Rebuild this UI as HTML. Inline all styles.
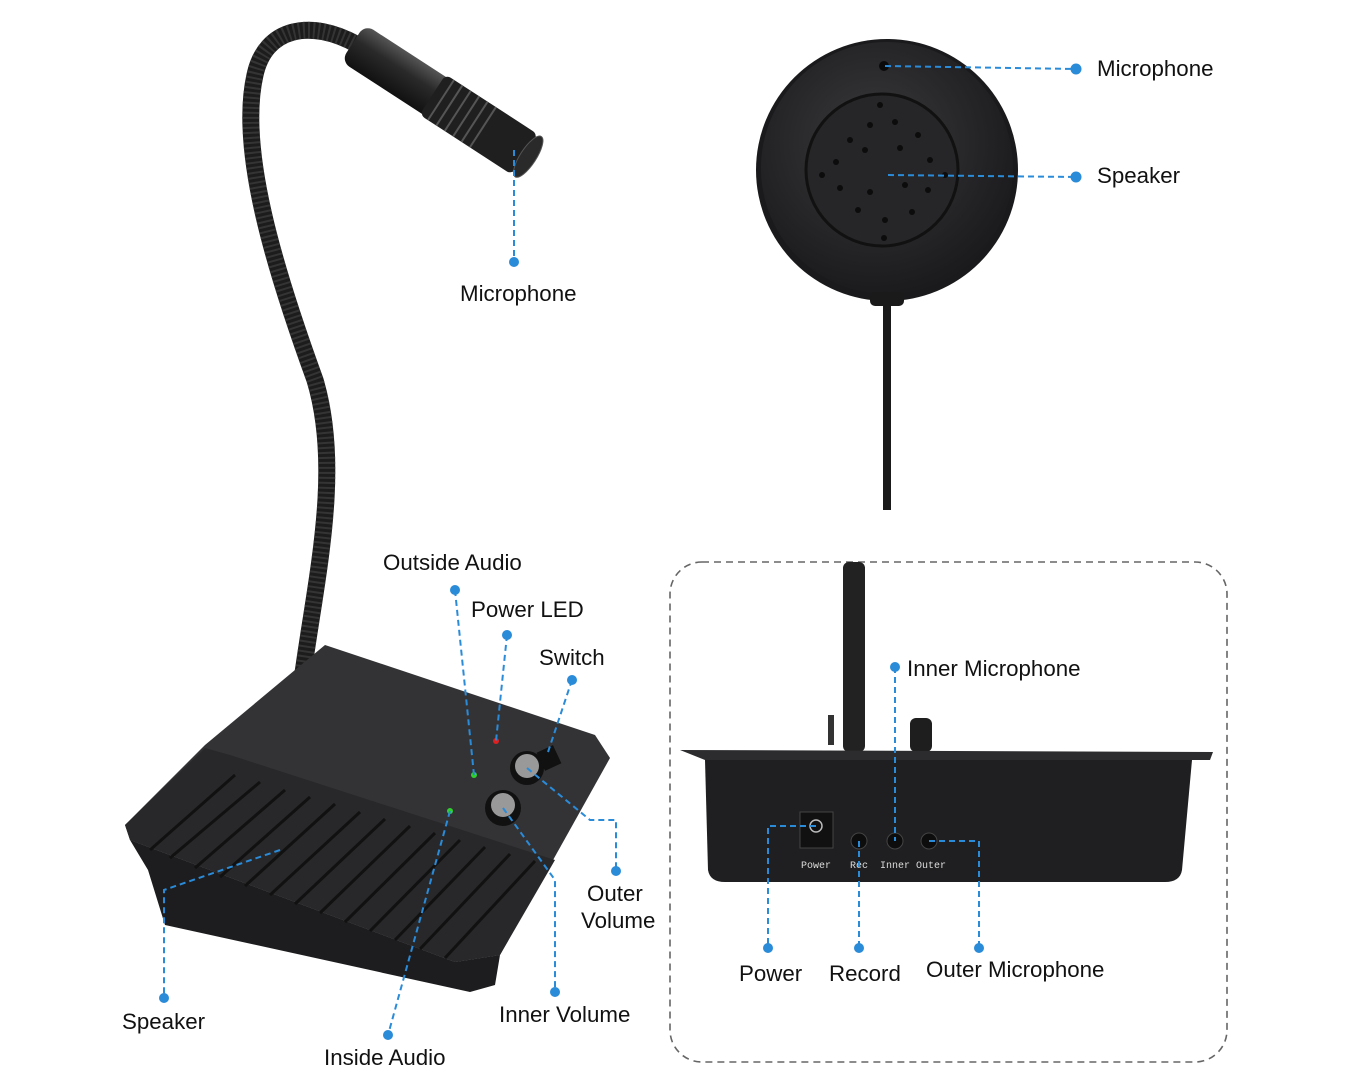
<!DOCTYPE html>
<html><head><meta charset="utf-8"><style>
html,body{margin:0;padding:0;background:#fff;}
svg{display:block;}
text{font-family:"Liberation Sans",sans-serif;font-size:22.3px;fill:#111;}
</style></head><body>
<svg width="1350" height="1080" viewBox="0 0 1350 1080" xmlns="http://www.w3.org/2000/svg">
<defs>
<linearGradient id="mic" x1="0" y1="0" x2="0" y2="1">
<stop offset="0" stop-color="#555"/><stop offset="0.4" stop-color="#2a2a2a"/><stop offset="1" stop-color="#111"/>
</linearGradient>
<radialGradient id="disc" cx="0.45" cy="0.4" r="0.6">
<stop offset="0" stop-color="#3a3a3c"/><stop offset="1" stop-color="#1b1b1d"/>
</radialGradient>
</defs>

<path d="M298,712 C310,600 345,480 315,380 C275,270 238,150 255,75 C265,28 310,18 358,45" fill="none" stroke="#1c1c1c" stroke-width="17" stroke-linecap="round"/>
<path d="M298,712 C310,600 345,480 315,380 C275,270 238,150 255,75 C265,28 310,18 358,45" fill="none" stroke="#444" stroke-width="17" stroke-dasharray="2 3" opacity="0.6"/>
<g transform="translate(441,100) rotate(33)">
<rect x="-105" y="-22" width="210" height="44" rx="10" fill="url(#mic)"/>
<rect x="-10" y="-24" width="110" height="48" rx="6" fill="#1f1f1f"/>
<g stroke="#555" stroke-width="2">
<line x1="0" y1="-24" x2="0" y2="24"/><line x1="10" y1="-24" x2="10" y2="24"/><line x1="20" y1="-24" x2="20" y2="24"/><line x1="30" y1="-24" x2="30" y2="24"/><line x1="40" y1="-24" x2="40" y2="24"/><line x1="50" y1="-24" x2="50" y2="24"/>
</g>
<ellipse cx="104" cy="0" rx="8" ry="24" fill="#2a2a2a" stroke="#555"/>
</g>

<polygon points="205,745 325,645 595,735 610,758 500,955 455,962 130,840 125,825" fill="#333336"/>
<polygon points="130,840 455,962 500,955 495,985 470,992 165,925 148,870" fill="#1d1d1f"/>
<polygon points="205,748 125,825 130,840 455,962 500,955 555,860 230,755" fill="#28282a"/>
<g stroke="#111" stroke-width="3">
<line x1="235" y1="775" x2="150" y2="850"/><line x1="260" y1="782" x2="170" y2="858"/>
<line x1="285" y1="790" x2="195" y2="868"/><line x1="310" y1="797" x2="220" y2="877"/>
<line x1="335" y1="804" x2="245" y2="886"/><line x1="360" y1="812" x2="270" y2="895"/>
<line x1="385" y1="819" x2="295" y2="904"/><line x1="410" y1="826" x2="320" y2="913"/>
<line x1="435" y1="833" x2="345" y2="922"/><line x1="460" y1="840" x2="370" y2="931"/>
<line x1="485" y1="847" x2="395" y2="940"/><line x1="510" y1="854" x2="420" y2="949"/>
<line x1="535" y1="861" x2="445" y2="958"/>
</g>
<circle cx="527" cy="768" r="17" fill="#111"/><circle cx="527" cy="766" r="12" fill="#999"/>
<circle cx="503" cy="808" r="18" fill="#111"/><circle cx="503" cy="805" r="12" fill="#999"/>
<rect x="540" y="748" width="18" height="20" fill="#111" transform="rotate(-25 549 758)"/>
<circle cx="496" cy="741" r="3" fill="#e02020"/>
<circle cx="474" cy="775" r="3" fill="#30d030"/>
<circle cx="450" cy="811" r="3" fill="#30d030"/>

<circle cx="887" cy="170" r="131" fill="#1a1a1c"/>
<circle cx="887" cy="168" r="126" fill="url(#disc)"/>
<circle cx="882" cy="170" r="76" fill="#262628" stroke="#111" stroke-width="3"/>
<g fill="#0c0c0c">
<circle cx="850" cy="140" r="3"/><circle cx="870" cy="125" r="3"/><circle cx="895" cy="122" r="3"/><circle cx="918" cy="135" r="3"/><circle cx="930" cy="160" r="3"/><circle cx="928" cy="190" r="3"/><circle cx="912" cy="212" r="3"/><circle cx="885" cy="220" r="3"/><circle cx="858" cy="210" r="3"/><circle cx="840" cy="188" r="3"/><circle cx="836" cy="162" r="3"/><circle cx="865" cy="150" r="3"/><circle cx="900" cy="148" r="3"/><circle cx="905" cy="185" r="3"/><circle cx="870" cy="192" r="3"/><circle cx="945" cy="175" r="3"/><circle cx="822" cy="175" r="3"/><circle cx="880" cy="105" r="3"/><circle cx="884" cy="238" r="3"/>
</g>
<circle cx="884" cy="66" r="5" fill="#0a0a0a"/>
<rect x="870" y="292" width="34" height="14" rx="5" fill="#1a1a1a"/>
<rect x="883" y="300" width="8" height="210" fill="#1a1a1a"/>

<rect x="670" y="562" width="557" height="500" rx="32" fill="none" stroke="#666" stroke-width="1.6" stroke-dasharray="7 5"/>
<rect x="843" y="562" width="22" height="190" rx="6" fill="#222"/>
<rect x="910" y="718" width="22" height="34" rx="6" fill="#1e1e1e"/>
<rect x="828" y="715" width="6" height="30" fill="#333"/>
<path d="M680,750 L1213,752 L1210,760 L705,760 Z" fill="#2c2c2e"/>
<path d="M705,760 L1192,760 L1182,870 Q1180,882 1165,882 L725,882 Q710,882 708,870 Z" fill="#1f1f21"/>
<rect x="800" y="812" width="33" height="36" fill="#111" stroke="#444"/>
<circle cx="816" cy="826" r="6" fill="none" stroke="#bbb" stroke-width="1.5"/>
<circle cx="859" cy="841" r="8" fill="#0d0d0d" stroke="#444"/>
<circle cx="895" cy="841" r="8" fill="#0d0d0d" stroke="#444"/>
<circle cx="929" cy="841" r="8" fill="#0d0d0d" stroke="#444"/>
<text x="801" y="868" style="font-size:10px;fill:#ddd;font-family:'Liberation Mono',monospace">Power</text>
<text x="850" y="868" style="font-size:10px;fill:#ddd;font-family:'Liberation Mono',monospace">Rec</text>
<text x="880" y="868" style="font-size:10px;fill:#ddd;font-family:'Liberation Mono',monospace">Inner Outer</text>

<g fill="none" stroke="#2a8bd8" stroke-width="2" stroke-dasharray="6 4">
<path d="M514,150 L514,262"/>
<path d="M885,66 L1076,69"/>
<path d="M888,175 L1076,177"/>
<path d="M455,590 L474,775"/>
<path d="M507,635 L496,741"/>
<path d="M572,680 L548,752"/>
<path d="M527,768 L590,820 L616,820 L616,871"/>
<path d="M503,808 L555,880 L555,992"/>
<path d="M450,811 L388,1035"/>
<path d="M280,850 L164,890 L164,998"/>
<path d="M895,667 L895,841"/>
<path d="M816,826 L768,826 L768,948"/>
<path d="M859,841 L859,948"/>
<path d="M929,841 L979,841 L979,948"/>
</g>
<g fill="#2a8bd8">
<circle cx="514" cy="262" r="5"/><circle cx="1076" cy="69" r="5.5"/><circle cx="1076" cy="177" r="5.5"/>
<circle cx="455" cy="590" r="5"/><circle cx="507" cy="635" r="5"/><circle cx="572" cy="680" r="5"/>
<circle cx="616" cy="871" r="5"/><circle cx="555" cy="992" r="5"/><circle cx="388" cy="1035" r="5"/>
<circle cx="164" cy="998" r="5"/><circle cx="895" cy="667" r="5"/>
<circle cx="768" cy="948" r="5"/><circle cx="859" cy="948" r="5"/><circle cx="979" cy="948" r="5"/>
</g>

<text x="460" y="301">Microphone</text>
<text x="1097" y="76">Microphone</text>
<text x="1097" y="183">Speaker</text>
<text x="383" y="570">Outside Audio</text>
<text x="471" y="617">Power LED</text>
<text x="539" y="665">Switch</text>
<text x="587" y="901">Outer</text>
<text x="581" y="928">Volume</text>
<text x="499" y="1022">Inner Volume</text>
<text x="324" y="1065">Inside Audio</text>
<text x="122" y="1029">Speaker</text>
<text x="907" y="676">Inner Microphone</text>
<text x="739" y="981">Power</text>
<text x="829" y="981">Record</text>
<text x="926" y="977">Outer Microphone</text>
</svg>
</body></html>
